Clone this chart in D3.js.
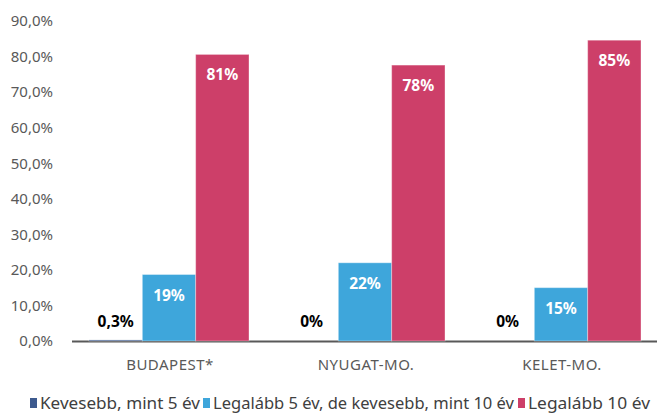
<!DOCTYPE html>
<html>
<head>
<meta charset="utf-8">
<script src="https://cdn.jsdelivr.net/npm/d3@7"></script>
<style>
  body { margin: 0; background: #fff; }
  svg { display: block; font-family: "Noto Sans", "Open Sans", sans-serif; }
</style>
</head>
<body>
<div id="chart"></div>
<script>
const categories = ["BUDAPEST*", "NYUGAT-MO.", "KELET-MO."];
const seriesNames = [
  "Kevesebb, mint 5 év",
  "Legalább 5 év, de kevesebb, mint 10 év",
  "Legalább 10 év",
];
const under5 = [0.3, 0, 0];
const from5to10 = [18.7, 22.0, 15.0];
const over10 = [80.6, 77.6, 84.6];
const yTicks = [0, 10, 20, 30, 40, 50, 60, 70, 80, 90];

const colors = ["#3d5a8e", "#3ea6db", "#cd3f69"];
const labelColors = ["#000", "#fff", "#fff"];
const allSeries = [under5, from5to10, over10];

const width = 657, height = 414;
const svg = d3
  .select("#chart")
  .append("svg")
  .attr("width", width)
  .attr("height", height);

const x = d3.scaleBand().domain(categories).range([72, 660]).padding(0);
const xSub = d3.scaleBand().domain(d3.range(3)).range([17, 177]).padding(0);
const y = d3.scaleLinear().domain([0, 90]).range([341, 21]);

const fmtTick = (d) => d3.format(".1f")(d).replace(".", ",") + "%";
const fmtLabel = (v) =>
  v === 0 ? "0%" : v < 1 ? String(v).replace(".", ",") + "%" : Math.round(v) + "%";

// y axis labels
const yAxis = svg
  .append("g")
  .attr("transform", "translate(72,0)")
  .call(d3.axisLeft(y).tickValues(yTicks).tickFormat(fmtTick).tickSize(0).tickPadding(19));
yAxis.select(".domain").remove();
yAxis
  .selectAll("text")
  .attr("fill", "#595959")
  .style("font-size", "15px")
  .style("font-family", "Noto Sans");

// baseline
svg
  .append("line")
  .attr("x1", 72)
  .attr("x2", 657)
  .attr("y1", 341.5)
  .attr("y2", 341.5)
  .attr("stroke", "#595959")
  .attr("stroke-width", 2);

// bars
const rows = [];
categories.forEach((c, i) => {
  allSeries.forEach((s, j) => rows.push({ cat: c, s: j, v: s[i] }));
});

const g = svg.append("g");
g.selectAll("rect")
  .data(rows.filter((d) => d.v > 0))
  .join("rect")
  .attr("x", (d) => x(d.cat) + xSub(d.s))
  .attr("y", (d) => y(d.v))
  .attr("width", xSub.bandwidth())
  .attr("height", (d) => y(0) - y(d.v))
  .attr("fill", (d) => colors[d.s])
  .attr("stroke", "#fff")
  .attr("stroke-opacity", 0.35)
  .attr("stroke-width", 1);

// value labels
g.selectAll("text.val")
  .data(rows)
  .join("text")
  .attr("class", "val")
  .attr("x", (d) => x(d.cat) + xSub(d.s) + xSub.bandwidth() / 2)
  .attr("y", (d) => (d.s === 0 ? y(0) - 14 : y(d.v) + 26))
  .attr("text-anchor", "middle")
  .attr("fill", (d) => labelColors[d.s])
  .style("font-size", "15.5px")
  .style("font-weight", "bold")
  .text((d) => fmtLabel(d.v));

// category labels
svg
  .append("g")
  .selectAll("text")
  .data(categories)
  .join("text")
  .attr("x", (d) => x(d) + x.bandwidth() / 2)
  .attr("y", 370)
  .attr("text-anchor", "middle")
  .attr("fill", "#595959")
  .style("font-size", "15px")
  .style("letter-spacing", "0.5px")
  .text((d) => d);

// legend
const legendX = [30, 203, 518];
const legendW = [160, 301, 122];
const legend = svg
  .append("g")
  .selectAll("g")
  .data(seriesNames)
  .join("g")
  .attr("transform", (d, i) => `translate(${legendX[i]},0)`);
legend
  .append("rect")
  .attr("x", 0)
  .attr("y", 398)
  .attr("width", 7)
  .attr("height", 10)
  .attr("fill", (d, i) => colors[i]);
legend
  .append("text")
  .attr("x", 10)
  .attr("y", 409)
  .attr("fill", "#404040")
  .attr("textLength", (d, i) => legendW[i])
  .attr("lengthAdjust", "spacingAndGlyphs")
  .style("font-size", "16px")
  .text((d) => d);
</script>
</body>
</html>
